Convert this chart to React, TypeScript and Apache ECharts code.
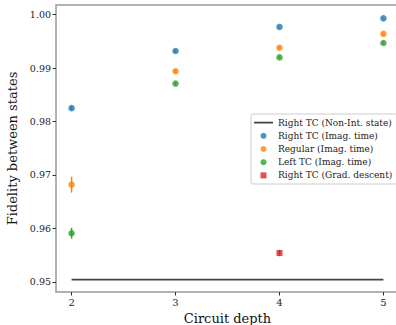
import React, { useEffect, useRef } from "react";
import * as echarts from "echarts";

const depths = [2, 3, 4, 5];
const rightTCImag = [0.9825, 0.9932, 0.9977, 0.9993];
const rightTCImagErr = [0.0003, 0.0002, 0.0001, 0.0001];
const regularImag = [0.9682, 0.9894, 0.9938, 0.9964];
const regularImagErr = [0.0015, 0.0003, 0.0002, 0.0002];
const leftTCImag = [0.9591, 0.9871, 0.992, 0.9947];
const leftTCImagErr = [0.001, 0.0003, 0.0002, 0.0002];
const gradDepth = [4];
const gradDescent = [0.9554];
const gradDescentErr = [0.0006];
const nonIntDepths = [2, 5];
const nonIntValue = 0.9504;
const yTicks = [0.95, 0.96, 0.97, 0.98, 0.99, 1.0];

const FONT = "DejaVu Serif";

const names = {
  nonInt: "Right TC (Non-Int. state)",
  right: "Right TC (Imag. time)",
  regular: "Regular (Imag. time)",
  left: "Left TC (Imag. time)",
  grad: "Right TC (Grad. descent)",
};

function errSeries(xs: number[], ys: number[], es: number[], color: string) {
  return {
    type: "custom",
    silent: true,
    z: 1,
    data: xs.map((x, i) => [x, ys[i], es[i]]),
    renderItem: (params: any, api: any) => {
      const x = api.value(0);
      const y = api.value(1);
      const e = api.value(2);
      const p1 = api.coord([x, y - e]);
      const p2 = api.coord([x, y + e]);
      return {
        type: "line",
        shape: { x1: p1[0], y1: p1[1], x2: p2[0], y2: p2[1] },
        style: { stroke: color, lineWidth: 1.5 },
      };
    },
  };
}

export default function App() {
  const ref = useRef<HTMLDivElement>(null);
  useEffect(() => {
    if (!ref.current) return;
    const chart = echarts.init(ref.current, null, { renderer: "svg" });
    const blue = "#1f77b4";
    const orange = "#ff7f0e";
    const green = "#2ca02c";
    const red = "#d62728";
    const legendText = { fontFamily: FONT, fontSize: 9, color: "#222", lineHeight: 13.2 };
    chart.setOption({
      animation: false,
      backgroundColor: "#fff",
      textStyle: { fontFamily: FONT },
      grid: {
        left: 56,
        top: 5,
        right: -3,
        bottom: 33,
        show: true,
        borderColor: "#999",
        borderWidth: 1.5,
        containLabel: false,
        outerBoundsMode: "none",
      },
      legend: {
        orient: "vertical",
        left: 251,
        top: 114,
        padding: [2, 5, 2, 3],
        itemGap: 0,
        itemWidth: 19,
        itemHeight: 6,
        symbolKeepAspect: true,
        backgroundColor: "rgba(255,255,255,0.85)",
        borderColor: "#ccc",
        borderWidth: 1,
        borderRadius: 2,
        textStyle: legendText,
        data: [
          { name: names.nonInt, icon: "path://M0,0h19v1.8h-19z", textStyle: legendText },
          { name: names.right, icon: "circle", textStyle: legendText },
          { name: names.regular, icon: "circle", textStyle: legendText },
          { name: names.left, icon: "circle", textStyle: legendText },
          { name: names.grad, icon: "path://M0,0h10v10h-10z", textStyle: legendText },
        ],
      },
      xAxis: {
        type: "value",
        min: 1.85,
        max: 5.15,
        name: "Circuit depth",
        nameLocation: "middle",
        nameGap: 20,
        nameTextStyle: { fontFamily: FONT, fontSize: 13, color: "#111" },
        axisLine: { show: false },
        splitLine: { show: false },
        axisTick: { show: true, length: 3.5, lineStyle: { color: "#333" }, customValues: depths },
        axisLabel: {
          fontFamily: FONT,
          fontSize: 10,
          color: "#222",
          margin: 5,
          customValues: depths,
          formatter: (v: number) => String(v),
        },
      },
      yAxis: {
        type: "value",
        min: 0.9481,
        max: 1.0018,
        name: "Fidelity between states",
        nameLocation: "middle",
        nameGap: 36,
        nameTextStyle: { fontFamily: FONT, fontSize: 13, color: "#111" },
        axisLine: { show: false },
        splitLine: { show: false },
        axisTick: { show: true, length: 3.5, lineStyle: { color: "#333" }, customValues: yTicks },
        axisLabel: {
          fontFamily: FONT,
          fontSize: 9.5,
          color: "#222",
          margin: 5,
          customValues: yTicks,
          formatter: (v: number) => v.toFixed(2),
        },
      },
      series: [
        {
          name: names.nonInt,
          type: "line",
          data: nonIntDepths.map((d) => [d, nonIntValue]),
          symbol: "none",
          showSymbol: false,
          lineStyle: { color: "#444", width: 1.8 },
          itemStyle: { color: "#444" },
          z: 2,
        },
        errSeries(depths, rightTCImag, rightTCImagErr, blue),
        errSeries(depths, regularImag, regularImagErr, orange),
        errSeries(depths, leftTCImag, leftTCImagErr, green),
        errSeries(gradDepth, gradDescent, gradDescentErr, red),
        {
          name: names.right,
          type: "scatter",
          data: depths.map((d, i) => [d, rightTCImag[i]]),
          symbol: "circle",
          symbolSize: 6.5,
          itemStyle: { color: blue },
          z: 3,
        },
        {
          name: names.regular,
          type: "scatter",
          data: depths.map((d, i) => [d, regularImag[i]]),
          symbol: "circle",
          symbolSize: 6.5,
          itemStyle: { color: orange },
          z: 3,
        },
        {
          name: names.left,
          type: "scatter",
          data: depths.map((d, i) => [d, leftTCImag[i]]),
          symbol: "circle",
          symbolSize: 6.5,
          itemStyle: { color: green },
          z: 3,
        },
        {
          name: names.grad,
          type: "scatter",
          data: gradDepth.map((d, i) => [d, gradDescent[i]]),
          symbol: "rect",
          symbolSize: 6,
          itemStyle: { color: red },
          z: 3,
        },
      ],
    });
    return () => chart.dispose();
  }, []);
  return (
    <div
      ref={ref}
      style={{ position: "fixed", left: 0, top: 0, width: 396, height: 325 }}
    />
  );
}
